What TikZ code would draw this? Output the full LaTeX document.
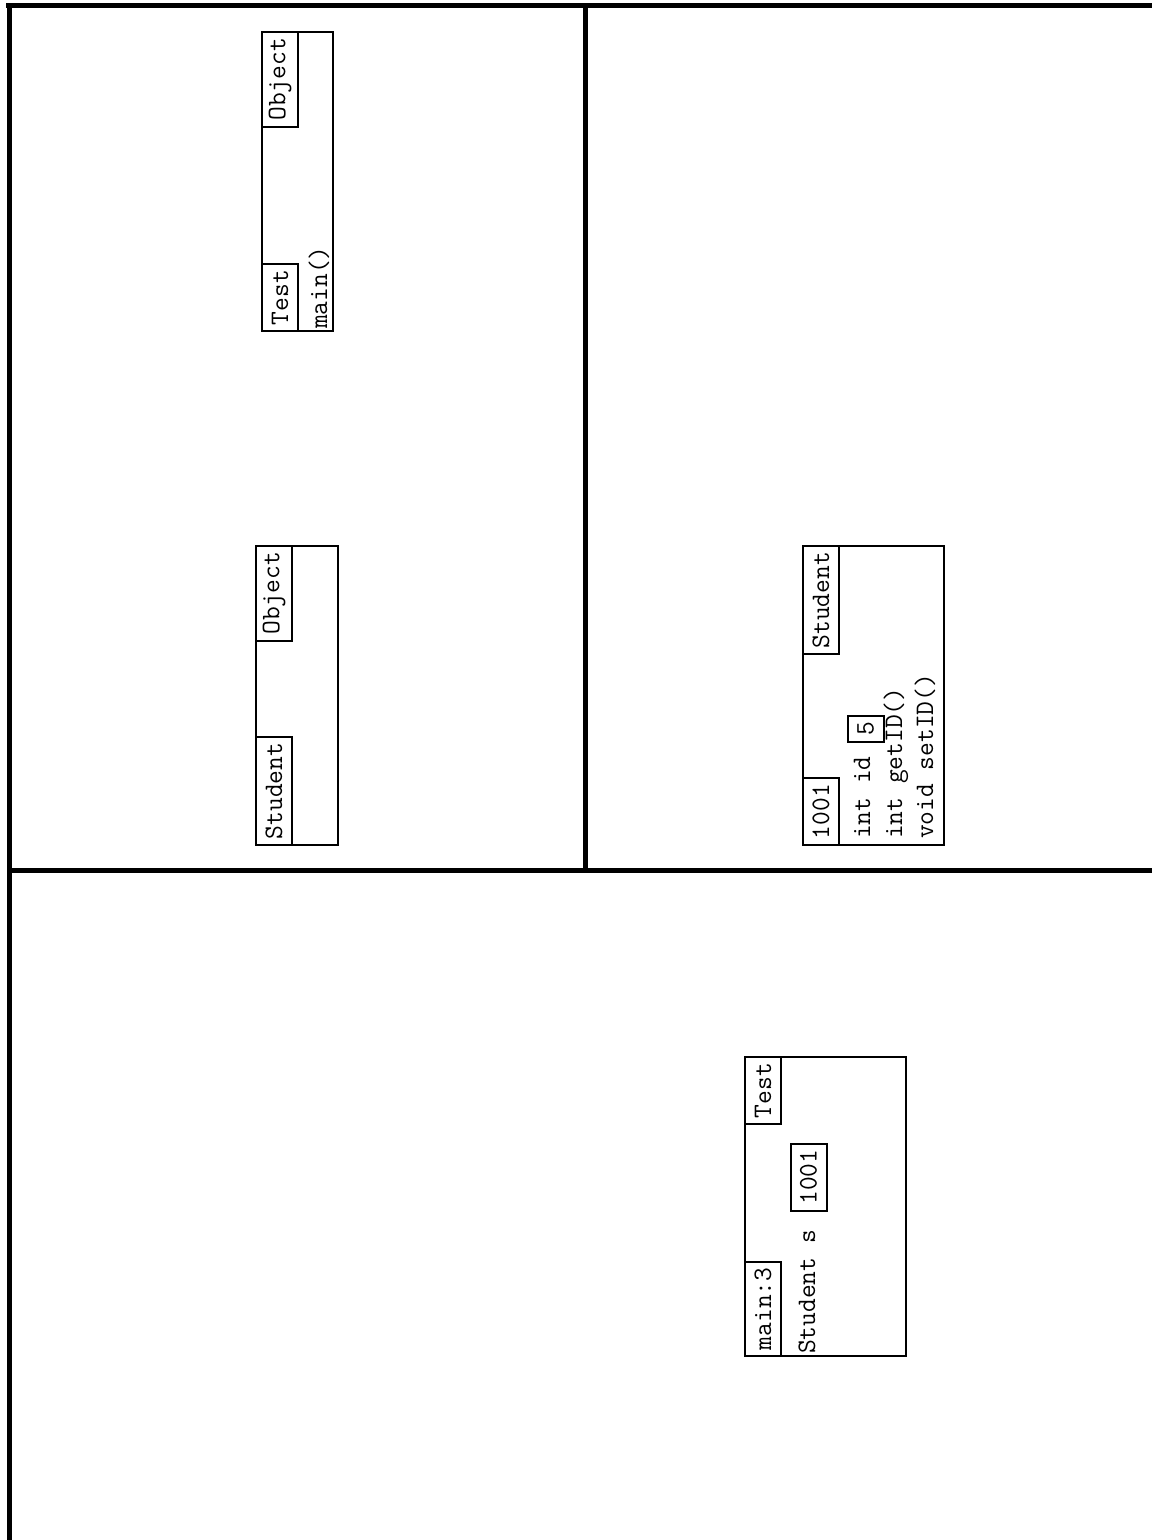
\documentclass[tikz,border=0pt]{standalone}
\usepackage{fontspec}
\newcommand{\codefont}{\fontsize{26.7pt}{32pt}\selectfont\ttfamily}

\begin{document}
\begin{tikzpicture}[x=1pt, y=-1pt,
    divider/.style={line width=5pt},
    membox/.style={draw, line width=2pt, inner sep=0pt},
    cell/.style={draw, line width=2pt, rotate=90, font=\codefont, inner xsep=6pt, inner ysep=0pt, minimum height=36pt},
    code/.style={rotate=90, font=\codefont, inner sep=0pt, anchor=base west}]
    \useasboundingbox (0,0) rectangle (1152,1540);

    % Panel dividers
    \draw[divider] (6,5) -- (1152,5);
    \draw[divider] (9,3) -- (9,1540);
    \draw[divider] (585,3) -- (585,870);
    \draw[divider] (9,870) -- (1152,870);

    % Class Test
    \node[membox, minimum width=71pt, minimum height=299pt] (testcls) at (297.5,181.5) {};
    \node[cell, anchor=north east] (testsuper) at (testcls.north west) {Object};
    \node[cell, anchor=north west] (testname) at (testcls.south west) {Test};
    \node[code] (testmain) at (327,329) {main()};

    % Class Student
    \node[membox, minimum width=82pt, minimum height=299pt] (stucls) at (297,695.5) {};
    \node[cell, anchor=north east] (stusuper) at (stucls.north west) {Object};
    \node[cell, anchor=north west] (stuname) at (stucls.south west) {Student};

    % Object 1001
    \node[membox, minimum width=141pt, minimum height=299pt] (obj) at (873.5,695.5) {};
    \node[cell, anchor=north east] (objtype) at (obj.north west) {Student};
    \node[cell, anchor=north west] (objref) at (obj.south west) {1001};
    \node[code] (objid) at (870,839) {int id};
    \node[cell] (objidval) at (865.5,729) {5};
    \node[code] (objget) at (902,839) {int getID()};
    \node[code] (objset) at (933,839) {void setID()};

    % Frame main:3
    \node[membox, minimum width=161pt, minimum height=299pt] (frame) at (825.5,1206.5) {};
    \node[cell, anchor=north east] (frameclass) at (frame.north west) {Test};
    \node[cell, anchor=north west] (framename) at (frame.south west) {main:3};
    \node[code] (framevar) at (815,1354) {Student s};
    \node[cell] (framevarval) at (808.5,1177) {1001};

\end{tikzpicture}
\end{document}
